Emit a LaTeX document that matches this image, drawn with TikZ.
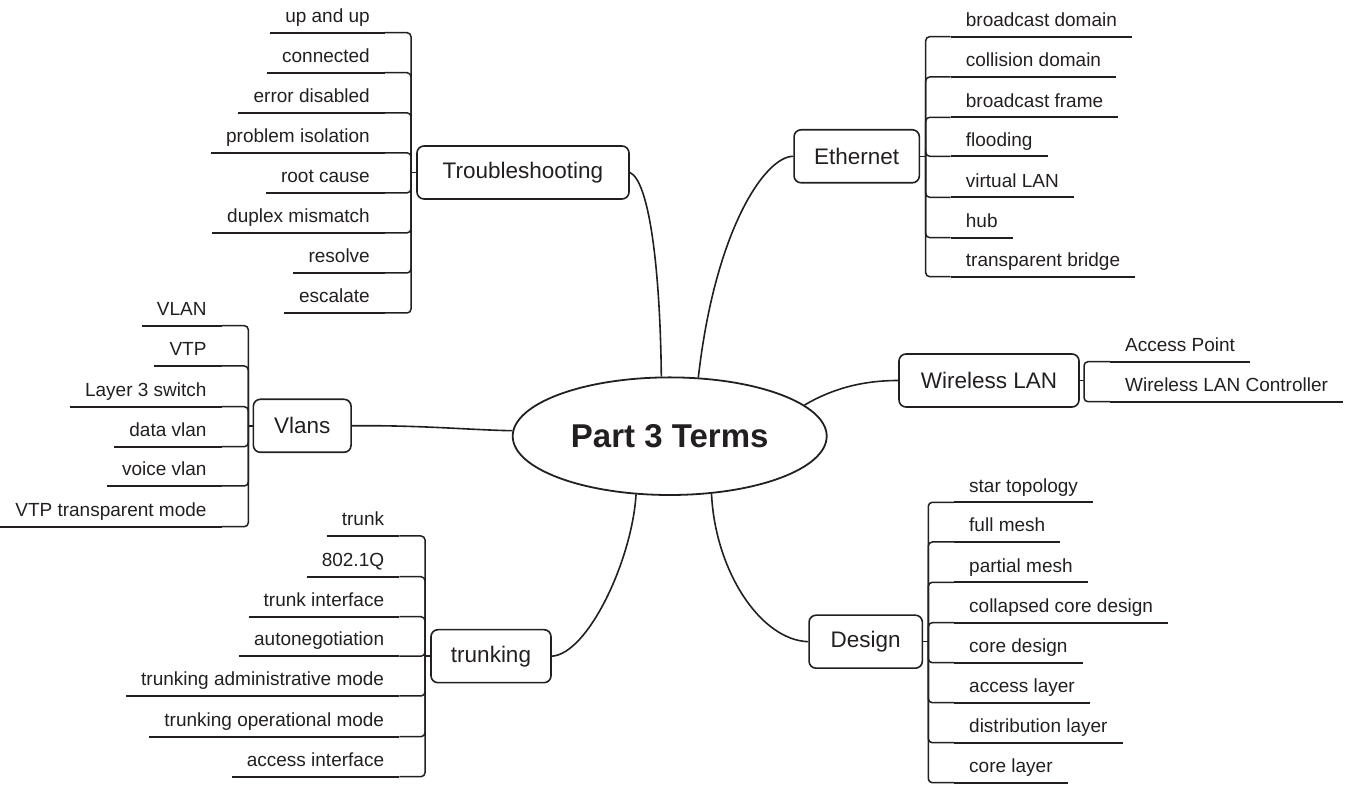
\documentclass[tikz,border=0pt]{standalone}
\usepackage{fontspec}
\setmainfont{Liberation Sans}
\usetikzlibrary{shapes.geometric}
\definecolor{ink}{HTML}{231F20}
\tikzset{
  conn/.style={draw=ink, line width=1.5pt, rounded corners=4pt},
  curve/.style={draw=ink, line width=1.6pt},
  uline/.style={draw=ink, line width=2.2pt},
  branch/.style={draw=ink, line width=1.6pt, rounded corners=7pt, minimum height=53pt, inner sep=0pt, text=ink, font=\fontsize{22.5}{26}\selectfont},
  leafbase/.style={inner xsep=15pt, inner ysep=0pt, text height=14pt, text depth=10pt, text=ink, font=\fontsize{19}{22}\selectfont},
  leafL/.style={leafbase, anchor=south east},
  leafR/.style={leafbase, anchor=south west},
  centre/.style={ellipse, draw=ink, line width=1.8pt, minimum width=314pt, minimum height=117.6pt, inner sep=0pt, text=ink, font=\fontsize{33}{38}\selectfont\bfseries}
}
\begin{document}
\begin{tikzpicture}[x=1pt,y=1pt]
\useasboundingbox (0,0) rectangle (1348,786);

\node[centre] (c) at (669.7,349.8) {Part 3 Terms};

\node[branch, minimum width=212pt] (tb) at (523,613.5) {Troubleshooting};
\node[branch, minimum width=125.3pt] (eth) at (856.7,629.7) {Ethernet};
\node[branch, minimum width=180pt] (wl) at (989,405.5) {Wireless LAN};
\node[branch, minimum width=113.3pt] (des) at (865.7,144.3) {Design};
\node[branch, minimum width=120pt] (tr) at (491,129.8) {trunking};
\node[branch, minimum width=97.7pt] (vl) at (302.2,360.2) {Vlans};

\coordinate (tbj) at (411,613.5);
\coordinate (ethj) at (925.7,629.7);
\coordinate (wlj) at (1084,405.5);
\coordinate (desj) at (928.3,144.3);
\coordinate (trj) at (425,129.8);
\coordinate (vlj) at (248.3,360.2);

% main curves
\draw[curve] (tb.east) .. controls (648,606) and (660,526) .. (c.98.6);
\draw[curve] (eth.west) .. controls (765,629.7) and (715,556) .. (c.64.8);
\draw[curve] (wl.west) .. controls (860,405.5) and (830,396) .. (c.13.6);
\draw[curve] (des.west) .. controls (760,146) and (715,216) .. (c.-54.5);
\draw[curve] (tr.east) .. controls (588,132) and (632,226) .. (c.240.8);
\draw[curve] (vl.east) .. controls (420,361) and (470,356) .. (c.178.4);

% stubs
\draw[conn] (tb.west) -- (tbj);
\draw[conn] (eth.east) -- (ethj);
\draw[conn] (wl.east) -- (wlj);
\draw[conn] (des.east) -- (desj);
\draw[conn] (tr.west) -- (trj);
\draw[conn] (vl.west) -- (vlj);

% Troubleshooting leaves
\foreach \t/\Y [count=\i] in {up and up/753.3, connected/713.3, error disabled/673.2, problem isolation/633.2, root cause/593.1, duplex mismatch/553.1, resolve/513.0, escalate/473.0}{
  \node[leafL] (tl\i) at (385,\Y) {\t};
  \draw[uline] (tl\i.south west) -- (tl\i.south east);
  \draw[conn] (tbj) |- (tl\i.south east);
}
% Ethernet leaves
\foreach \t/\Y [count=\i] in {broadcast domain/749.3, collision domain/709, broadcast frame/668.7, flooding/629.7, virtual LAN/588.7, hub/548.3, transparent bridge/509.3}{
  \node[leafR] (el\i) at (950.7,\Y) {\t};
  \draw[uline] (el\i.south west) -- (el\i.south east);
  \draw[conn] (ethj) |- (el\i.south west);
}
% Wireless leaves
\foreach \t/\Y [count=\i] in {Access Point/424.3, Wireless LAN Controller/384.3}{
  \node[leafR] (wl\i) at (1110,\Y) {\t};
  \draw[uline] (wl\i.south west) -- (wl\i.south east);
  \draw[conn] (wlj) |- (wl\i.south west);
}
% Design leaves
\foreach \t/\Y [count=\i] in {star topology/283.7, full mesh/244, partial mesh/203.7, collapsed core design/163.3, core design/123.3, access layer/83.3, distribution layer/43.3, core layer/3.3}{
  \node[leafR] (dl\i) at (954,\Y) {\t};
  \draw[uline] (dl\i.south west) -- (dl\i.south east);
  \draw[conn] (desj) |- (dl\i.south west);
}
% Vlans leaves
\foreach \t/\Y [count=\i] in {VLAN/460.3, VTP/420, Layer 3 switch/379.3, data vlan/339.3, voice vlan/300, VTP transparent mode/259.3}{
  \node[leafL] (vl\i) at (221.7,\Y) {\t};
  \draw[uline] (vl\i.south west) -- (vl\i.south east);
  \draw[conn] (vlj) |- (vl\i.south east);
}
% trunking leaves
\foreach \t/\Y [count=\i] in {trunk/250, 802.1Q/209.3, trunk interface/169.3, autonegotiation/129.8, trunking administrative mode/90, trunking operational mode/49.3, access interface/9.3}{
  \node[leafL] (tk\i) at (399.3,\Y) {\t};
  \draw[uline] (tk\i.south west) -- (tk\i.south east);
  \draw[conn] (trj) |- (tk\i.south east);
}
\end{tikzpicture}
\end{document}
